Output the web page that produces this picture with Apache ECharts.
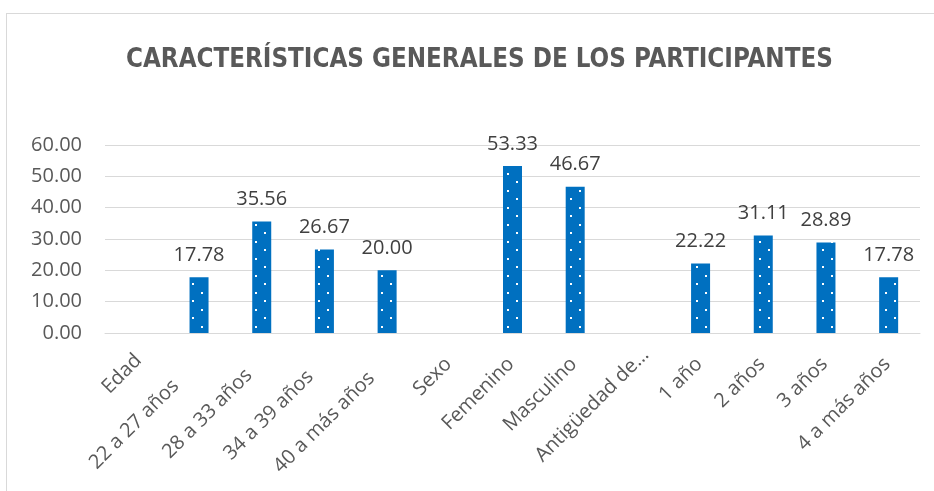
<!DOCTYPE html>
<html>
<head>
<meta charset="utf-8">
<script src="https://cdn.jsdelivr.net/npm/echarts@6/dist/echarts.min.js"></script>
<style>
html,body{margin:0;padding:0;background:#fff;}
#frame{position:absolute;left:6px;top:13px;width:940px;height:490px;border:1px solid #d9d9d9;box-sizing:border-box;}
#chart{position:absolute;left:0;top:0;width:934px;height:491px;}
</style>
</head>
<body>
<div id="frame"></div>
<div id="chart"></div>
<script>
const categories = ['Edad','22 a 27 años','28 a 33 años','34 a 39 años','40 a más años','Sexo','Femenino','Masculino','Antigüedad de…','1 año','2 años','3 años','4 a más años'];
const values = [null,17.78,35.56,26.67,20.00,null,53.33,46.67,null,22.22,31.11,28.89,17.78];
const yTicks = [0,10,20,30,40,50,60];
// label layout shift (style only): extra right padding per label, mimicking the reference placement
const labelShift = [8,44,29,31,33,13,13,13,0,13,13,13,13];

const tile = document.createElement('canvas');
tile.width = 18; tile.height = 17;
const ctx = tile.getContext('2d');
ctx.fillStyle = '#0070C0'; ctx.fillRect(0,0,18,17);
ctx.fillStyle = '#ffffff';
ctx.fillRect(3,3,2,2);
ctx.fillRect(12,11,2,2);

const catData = categories.map((c,i)=>({value:c,textStyle:{padding:[0,labelShift[i],0,0]}}));

const chart = echarts.init(document.getElementById('chart'), null, {renderer:'canvas'});
chart.setOption({
  animation:false,
  title:{
    text:'CARACTERÍSTICAS GENERALES DE LOS PARTICIPANTES',
    left:121, top:42,
    textStyle:{fontFamily:'"Liberation Sans Narrow","DejaVu Sans Condensed",sans-serif',fontWeight:'bold',fontSize:25.7,color:'#595959'}
  },
  grid:{left:105,right:14,top:145,bottom:158},
  xAxis:{
    type:'category', data:catData,
    axisLine:{lineStyle:{color:'#d9d9d9',width:1}},
    axisTick:{show:false},
    axisLabel:{interval:0,rotate:45,margin:11,lineHeight:22,formatter:v=>'\n'+v,fontFamily:'"Open Sans",sans-serif',fontSize:20,color:'#595959'}
  },
  yAxis:{
    type:'value', min:yTicks[0], max:yTicks[yTicks.length-1], interval:10,
    axisLine:{show:false}, axisTick:{show:false},
    splitLine:{lineStyle:{color:'#d9d9d9',width:1}},
    axisLabel:{margin:23,fontFamily:'"Open Sans",sans-serif',fontSize:20,color:'#595959',formatter:v=>v.toFixed(2)}
  },
  series:[{
    type:'bar', data:values, barWidth:19,
    itemStyle:{color:{image:tile,repeat:'repeat'}},
    label:{show:true,position:'top',distance:12,fontFamily:'"Open Sans",sans-serif',fontSize:20,color:'#404040',formatter:p=>p.value.toFixed(2)}
  }]
});
</script>
</body>
</html>
